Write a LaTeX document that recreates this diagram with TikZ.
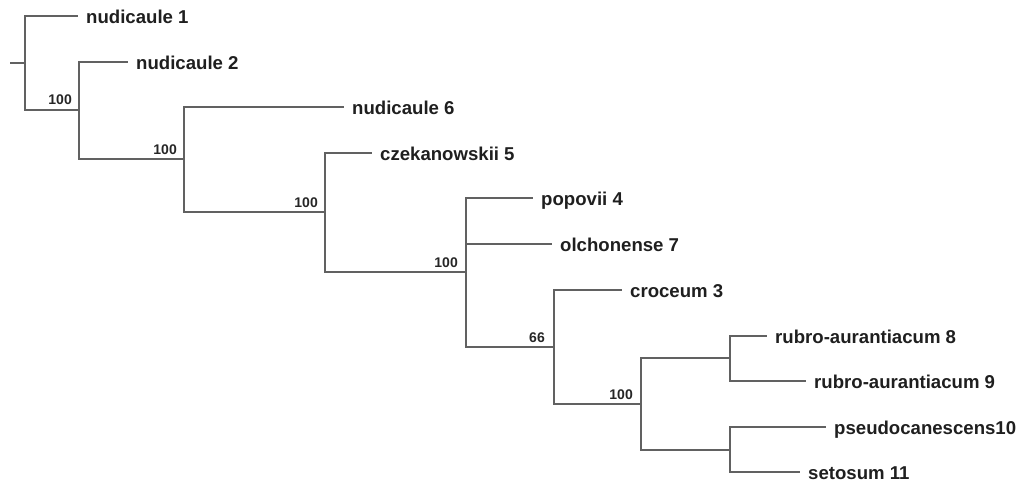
\documentclass[tikz,border=0pt]{standalone}
\usepackage{fontspec}
\setmainfont{Liberation Sans}
\begin{document}
\begin{tikzpicture}[x=1pt,y=-1pt,
  branch/.style={draw=black!62, line width=1.3pt},
  leaf/.style={anchor=west, inner xsep=8pt, inner ysep=0pt, text height=15pt, text depth=0pt,
    font=\fontsize{18.6}{20}\selectfont\bfseries, text=black!88},
  boot/.style={anchor=base east, inner sep=0pt, font=\fontsize{14}{15}\selectfont\bfseries, text=black!85}]
\useasboundingbox (0,0) rectangle (1024,484);
% inner nodes
\coordinate (root) at (10,63);
\coordinate (A) at (25,63);
\coordinate (B) at (79,110);
\coordinate (C) at (184,159);
\coordinate (D) at (325,212);
\coordinate (E) at (466,272);
\coordinate (F) at (554,347);
\coordinate (G) at (641,404);
\coordinate (H) at (730,358);
\coordinate (I) at (730,450);
% leaves
\node[leaf] (n1) at (78,16) {nudicaule 1};
\node[leaf] (n2) at (128,62) {nudicaule 2};
\node[leaf] (n6) at (344,107) {nudicaule 6};
\node[leaf] (cz5) at (372,153) {czekanowskii 5};
\node[leaf] (pop4) at (533,198) {popovii 4};
\node[leaf] (olc7) at (552,244) {olchonense 7};
\node[leaf] (cro3) at (622,290) {croceum 3};
\node[leaf] (ra8) at (767,336) {rubro-aurantiacum 8};
\node[leaf] (ra9) at (806,381) {rubro-aurantiacum 9};
\node[leaf] (ps10) at (826,427) {pseudocanescens10};
\node[leaf] (se11) at (800,472) {setosum 11};
% branches
\draw[branch] (root) -- (A);
\draw[branch] (A) |- (n1.west);
\draw[branch] (A) |- (B);
\draw[branch] (B) |- (n2.west);
\draw[branch] (B) |- (C);
\draw[branch] (C) |- (n6.west);
\draw[branch] (C) |- (D);
\draw[branch] (D) |- (cz5.west);
\draw[branch] (D) |- (E);
\draw[branch] (E) |- (pop4.west);
\draw[branch] (E) |- (olc7.west);
\draw[branch] (E) |- (F);
\draw[branch] (F) |- (cro3.west);
\draw[branch] (F) |- (G);
\draw[branch] (G) |- (H);
\draw[branch] (G) |- (I);
\draw[branch] (H) |- (ra8.west);
\draw[branch] (H) |- (ra9.west);
\draw[branch] (I) |- (ps10.west);
\draw[branch] (I) |- (se11.west);
% support values
\node[boot] (bB) at ([xshift=-7pt,yshift=5pt]B) {100};
\node[boot] (bC) at ([xshift=-7pt,yshift=5pt]C) {100};
\node[boot] (bD) at ([xshift=-7pt,yshift=5pt]D) {100};
\node[boot] (bE) at ([xshift=-8pt,yshift=5pt]E) {100};
\node[boot] (bF) at ([xshift=-9pt,yshift=5pt]F) {66};
\node[boot] (bG) at ([xshift=-8pt,yshift=5pt]G) {100};
\end{tikzpicture}
\end{document}
